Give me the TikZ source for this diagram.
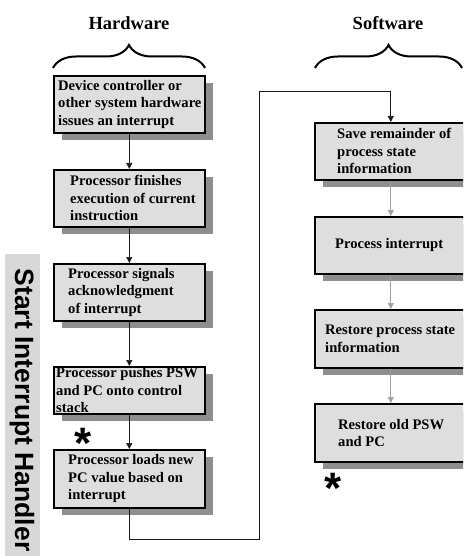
\documentclass[tikz,border=0pt]{standalone}
\usepackage{fontspec}
\setmainfont{Liberation Serif}
\newfontfamily\hurufsans{Liberation Sans}
\usetikzlibrary{calc,positioning,arrows.meta,shadows,decorations.pathreplacing}

\definecolor{isikotak}{HTML}{DEDEDE}
\definecolor{bayangan}{HTML}{8E8E8E}
\definecolor{pita}{HTML}{D8D8D8}

\tikzset{
	kotak/.style={draw, line width=1.6pt, fill=isikotak, inner sep=0pt,
		drop shadow={shadow xshift=8pt, shadow yshift=-7pt, fill=bayangan, opacity=1}},
	teks/.style={align=left, inner sep=0pt, font=\bfseries\fontsize{14.6}{17.5}\selectfont},
	kepala/.style={font=\bfseries\fontsize{18.5}{20}\selectfont},
	kurung/.style={decorate, decoration={brace, amplitude=23pt}, line width=2pt},
	panah/.style={-{Triangle[width=6pt,length=6pt]}, line width=0.7pt, draw=gray!20!black},
	panahabu/.style={panah, draw=gray!75},
	bintang/.style={inner sep=0pt, font=\hurufsans\bfseries\fontsize{44}{44}\selectfont}
}

% kotak langkah: [lebar]{nama}{x}{y atas}{tinggi}{jarak teks}{teks}
\newcommand{\kotak}[7][151]
	{
	\node[kotak, minimum width=#1pt, minimum height=#5pt, anchor=north west] (#2) at (#3,#4) {};
	\node[teks, anchor=west] (#2t) at ([xshift=#6pt]#2.west) {#7};
	}

\begin{document}
\begin{tikzpicture}[x=1pt, y=-1pt]

\useasboundingbox (0,0) rectangle (463,556);
\clip (0,0) rectangle (463,556);

% judul kolom
\node[kepala] (hw) at (129,23) {Hardware};
\node[kepala] (sw) at (388,23) {Software};
\draw[kurung] (53,68) -- (205,68);
\draw[kurung] (315,68) -- (462,68);

% pita samping
\fill[pita] (5,254) rectangle (40,556);
\node[rotate=-90, font=\hurufsans\bfseries\fontsize{26.5}{26.5}\selectfont] (pitateks) at (22,410) {Start Interrupt Handler};

% langkah perangkat keras
\kotak{hw1}{53}{75}{57}{5}{Device controller or\\other system hardware\\issues an interrupt}
\kotak{hw2}{53}{169}{57}{17}{Processor finishes\\execution of current\\instruction}
\kotak{hw3}{53}{263}{57}{15}{Processor signals\\acknowledgment\\of interrupt}
\kotak{hw4}{53}{366}{47}{3}{Processor pushes PSW\\and PC onto control\\stack}
\kotak{hw5}{53}{449}{58}{15}{Processor loads new\\PC value based on\\interrupt}

% langkah perangkat lunak
\kotak[152]{sw1}{314}{122}{57}{23}{Save remainder of\\process state\\information}
\kotak[152]{sw2}{314}{216}{57}{21}{Process interrupt}
\kotak[152]{sw3}{314}{309}{58}{11}{Restore process state\\information}
\kotak[152]{sw4}{314}{403}{58}{24}{Restore old PSW\\and PC}

% tanda bintang
\node[bintang, anchor=north] (bintang1) at (83,428) {*};
\node[bintang, anchor=north] (bintang2) at (333,473) {*};

% panah
\draw[panah] (hw1) -- (hw2);
\draw[panah] (hw2) -- (hw3);
\draw[panah] (hw3) -- (hw4);
\draw[panah] (hw4) -- (hw5);

\coordinate (bawah) at (0,539);
\coordinate (belok) at (259,91);
\draw[panah] (hw5.south) -- (hw5.south |- bawah) -| (belok) -| (sw1.north);

\draw[panahabu] (sw1) -- (sw2);
\draw[panahabu] (sw2) -- (sw3);
\draw[panahabu] (sw3) -- (sw4);

\end{tikzpicture}
\end{document}
